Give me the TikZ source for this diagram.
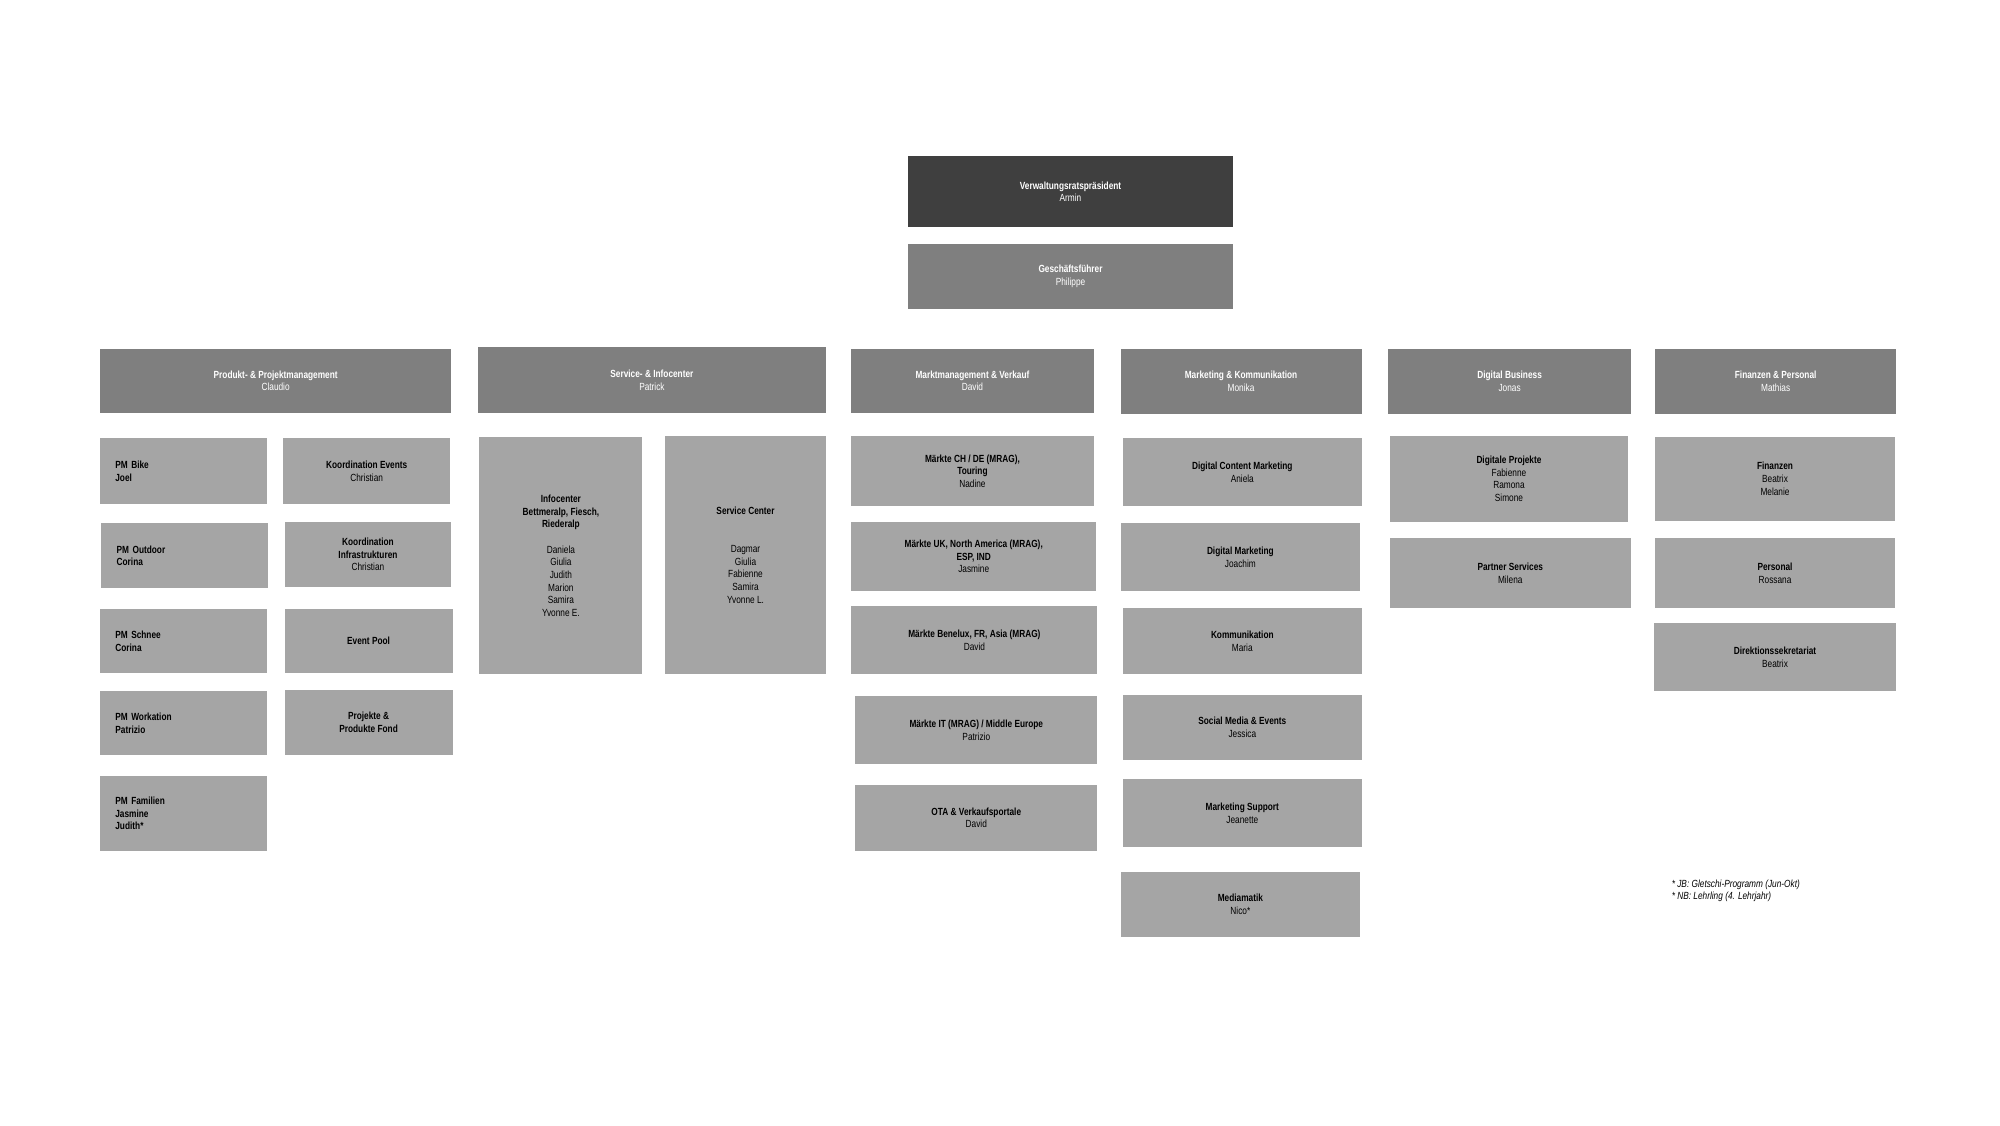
\documentclass[tikz,border=0pt]{standalone}
\usepackage{fontspec}
\setmainfont{Liberation Sans}[FakeStretch=0.8]
\usetikzlibrary{positioning}
\definecolor{chiefgray}{HTML}{3F3F3F}
\definecolor{headgray}{HTML}{7F7F7F}
\definecolor{teamgray}{HTML}{A5A5A5}
% box from corner (x1,y1) to corner (x2,y2)
\newcommand{\orgbox}[7]{%
  \node[#2, minimum width={(#5-#3)*0.5mm}, minimum height={(#6-#4)*0.5mm}]
    (#1) at ({(#3+#5)/2},{(#4+#6)/2}) {#7};}
\begin{document}
\begin{tikzpicture}[x=0.5mm, y=-0.5mm,
        every node/.style={font=\fontsize{11.5}{14}\selectfont, inner sep=0pt, outer sep=0pt},
        chief/.style={
        % The shape:
        rectangle, fill=chiefgray, text=white, align=center},
        head/.style={
        % The shape:
        rectangle, fill=headgray, text=white, align=center},
        team/.style={
        % The shape:
        rectangle, fill=teamgray, text=black, align=center},
        teamleft/.style={
        team, align=left, text width=106*0.5mm},
        ]
    \useasboundingbox (0,0) rectangle (1560,877.5);
    % top
    \orgbox{vr}{chief}{708}{122}{962}{177}{\bfseries Verwaltungsratspräsident\\Armin}
    \orgbox{gf}{head}{708}{190}{962}{241}{\bfseries Geschäftsführer\\Philippe}
    % departments
    \orgbox{prod}{head}{78}{272}{352}{322}{\bfseries Produkt- \& Projektmanagement\\Claudio}
    \orgbox{serv}{head}{373}{271}{644}{322}{\bfseries Service- \& Infocenter\\Patrick}
    \orgbox{markt}{head}{664}{272}{853}{322}{\bfseries Marktmanagement \& Verkauf\\David}
    \orgbox{mark}{head}{874}{272}{1062}{323}{\bfseries Marketing \& Kommunikation\\Monika}
    \orgbox{dig}{head}{1083}{272}{1272}{323}{\bfseries Digital Business\\Jonas}
    \orgbox{fin}{head}{1291}{272}{1479}{323}{\bfseries Finanzen \& Personal\\Mathias}
    % Produkt- & Projektmanagement
    \orgbox{bike}{teamleft}{78}{342}{208}{393}{\bfseries PM Bike\\Joel}
    \orgbox{outdoor}{teamleft}{79}{408}{209}{459}{\bfseries PM Outdoor\\Corina}
    \orgbox{schnee}{teamleft}{78}{475}{208}{525}{\bfseries PM Schnee\\Corina}
    \orgbox{workation}{teamleft}{78}{539}{208}{589}{\bfseries PM Workation\\Patrizio}
    \orgbox{familien}{teamleft}{78}{605}{208}{664}{\bfseries PM Familien\\Jasmine\\Judith*}
    \orgbox{events}{team}{221}{342}{351}{393}{\bfseries Koordination Events\\Christian}
    \orgbox{infra}{team}{222}{407}{352}{458}{\bfseries Koordination\\\bfseries Infrastrukturen\\Christian}
    \orgbox{pool}{team}{222}{475}{353}{525}{\bfseries Event Pool}
    \orgbox{fond}{team}{222}{538}{353}{589}{\bfseries Projekte \&\\\bfseries Produkte Fond}
    % Service- & Infocenter
    \orgbox{info}{team}{374}{341}{501}{526}{\bfseries Infocenter\\\bfseries Bettmeralp, Fiesch,\\\bfseries Riederalp\\[14pt]Daniela\\Giulia\\Judith\\Marion\\Samira\\Yvonne E.}
    \orgbox{center}{team}{519}{340}{644}{526}{\bfseries Service Center\\[28pt]Dagmar\\Giulia\\Fabienne\\Samira\\Yvonne L.}
    % Marktmanagement & Verkauf
    \orgbox{ch}{team}{664}{340}{853}{395}{\bfseries Märkte CH / DE (MRAG),\\\bfseries Touring\\Nadine}
    \orgbox{uk}{team}{664}{407}{855}{461}{\bfseries Märkte UK, North America (MRAG),\\\bfseries ESP, IND\\Jasmine}
    \orgbox{benelux}{team}{664}{473}{856}{526}{\bfseries Märkte Benelux, FR, Asia (MRAG)\\David}
    \orgbox{it}{team}{667}{543}{856}{596}{\bfseries Märkte IT (MRAG) / Middle Europe\\Patrizio}
    \orgbox{ota}{team}{667}{612}{856}{664}{\bfseries OTA \& Verkaufsportale\\David}
    % Marketing & Kommunikation
    \orgbox{dcm}{team}{876}{342}{1062}{395}{\bfseries Digital Content Marketing\\Aniela}
    \orgbox{dm}{team}{874}{408}{1061}{461}{\bfseries Digital Marketing\\Joachim}
    \orgbox{komm}{team}{876}{474}{1062}{526}{\bfseries Kommunikation\\Maria}
    \orgbox{social}{team}{876}{542}{1062}{593}{\bfseries Social Media \& Events\\Jessica}
    \orgbox{support}{team}{876}{608}{1062}{661}{\bfseries Marketing Support\\Jeanette}
    \orgbox{media}{team}{874}{680}{1061}{731}{\bfseries Mediamatik\\Nico*}
    % Digital Business
    \orgbox{projekte}{team}{1084}{340}{1270}{407}{\bfseries Digitale Projekte\\Fabienne\\Ramona\\Simone}
    \orgbox{partner}{team}{1084}{420}{1272}{474}{\bfseries Partner Services\\Milena}
    % Finanzen & Personal
    \orgbox{finanzen}{team}{1291}{341}{1478}{406}{\bfseries Finanzen\\Beatrix\\Melanie}
    \orgbox{personal}{team}{1291}{420}{1478}{474}{\bfseries Personal\\Rossana}
    \orgbox{sekretariat}{team}{1290}{486}{1479}{539}{\bfseries Direktionssekretariat\\Beatrix}
    % footnote
    \node[anchor=north west, align=left, font=\fontsize{11.5}{14}\selectfont\itshape] (note) at (1304,686)
        {* JB: Gletschi-Programm (Jun-Okt)\\* NB: Lehrling (4. Lehrjahr)};
\end{tikzpicture}
\end{document}
